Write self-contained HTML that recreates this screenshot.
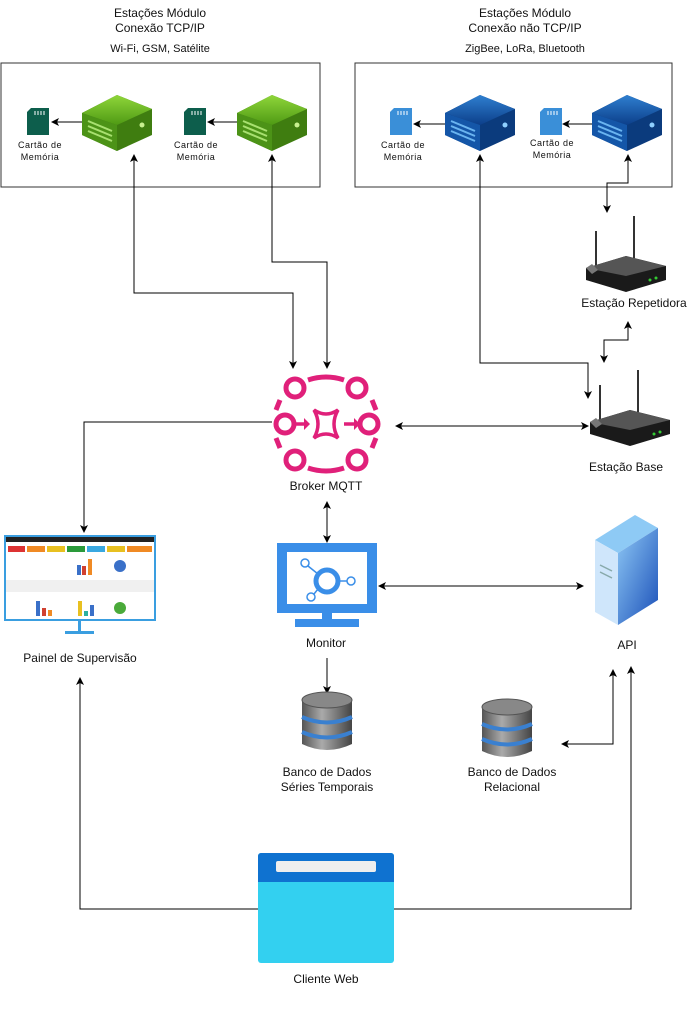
<!DOCTYPE html>
<html><head><meta charset="utf-8"><style>
body{margin:0;background:#fff}
svg text{font-family:"Liberation Sans",sans-serif;fill:#111}
</style></head><body>
<svg width="696" height="1014" viewBox="0 0 696 1014" xmlns="http://www.w3.org/2000/svg">
<defs>
<marker id="a" markerWidth="8" markerHeight="8" refX="7" refY="4" orient="auto-start-reverse" markerUnits="userSpaceOnUse"><path d="M0,0 L8,4 L0,8 L2,4 Z" fill="#000"/></marker>
<linearGradient id="gg" x1="0" y1="0" x2="0" y2="1"><stop offset="0" stop-color="#8fd63a"/><stop offset="1" stop-color="#4f9a14"/></linearGradient>
<linearGradient id="bg" x1="0" y1="0" x2="0" y2="1"><stop offset="0" stop-color="#2f7fd0"/><stop offset="1" stop-color="#0c3f8a"/></linearGradient>
<linearGradient id="sv" x1="0" y1="0" x2="1" y2="1"><stop offset="0" stop-color="#8ec8f5"/><stop offset="1" stop-color="#1a4fb8"/></linearGradient>
<linearGradient id="db" x1="0" y1="0" x2="1" y2="0"><stop offset="0" stop-color="#555"/><stop offset=".4" stop-color="#aaa"/><stop offset="1" stop-color="#444"/></linearGradient>
<g id="gbox"><path d="M0,18 L35,0 L70,14 L70,40 L35,56 L0,40 Z" fill="#3f7d10"/><path d="M0,18 L35,0 L70,14 L35,30 Z" fill="url(#gg)"/><path d="M0,18 L35,30 L35,56 L0,40Z" fill="#4c9317"/><g stroke="#a8e070" stroke-width="2"><line x1="6" y1="26" x2="30" y2="36"/><line x1="6" y1="31" x2="30" y2="41"/><line x1="6" y1="36" x2="30" y2="46"/></g><circle cx="60" cy="30" r="2.5" fill="#c8f090"/></g>
<g id="bbox"><path d="M0,18 L35,0 L70,14 L70,40 L35,56 L0,40 Z" fill="#0b3b7d"/><path d="M0,18 L35,0 L70,14 L35,30 Z" fill="url(#bg)"/><path d="M0,18 L35,30 L35,56 L0,40Z" fill="#1456a8"/><g stroke="#6ab4f0" stroke-width="2"><line x1="6" y1="26" x2="30" y2="36"/><line x1="6" y1="31" x2="30" y2="41"/><line x1="6" y1="36" x2="30" y2="46"/></g><circle cx="60" cy="30" r="2.5" fill="#8fd0ff"/></g>
<g id="router"><line x1="10" y1="-5" x2="10" y2="30" stroke="#333" stroke-width="2"/><line x1="48" y1="-20" x2="48" y2="22" stroke="#333" stroke-width="2"/><path d="M0,32 L40,20 L80,30 L80,44 L40,56 L0,44Z" fill="#1a1a1a"/><path d="M0,32 L40,20 L80,30 L40,40Z" fill="#555"/><path d="M0,32 L6,28 L12,34 L6,38Z" fill="#777"/><circle cx="64" cy="44" r="1.5" fill="#3c3"/><circle cx="70" cy="42" r="1.5" fill="#3c3"/></g>
<g id="sd"><path d="M0,4 L4,0 L22,0 L22,27 L0,27Z"/><g stroke="#fff" stroke-width="1"><line x1="8" y1="3" x2="8" y2="7"/><line x1="11" y1="3" x2="11" y2="7"/><line x1="14" y1="3" x2="14" y2="7"/><line x1="17" y1="3" x2="17" y2="7"/></g></g>
<g id="dbi"><path d="M0,8 L0,52 Q25,64 50,52 L50,8Z" fill="url(#db)"/><ellipse cx="25" cy="8" rx="25" ry="8" fill="#888" stroke="#555"/><path d="M0,25 Q25,36 50,25" stroke="#3a80d0" stroke-width="4" fill="none"/><path d="M0,40 Q25,51 50,40" stroke="#3a80d0" stroke-width="4" fill="none"/></g>
</defs>

<g font-size="12" text-anchor="middle">
<text x="160" y="17">Estações Módulo</text><text x="160" y="32">Conexão TCP/IP</text><text x="160" y="52" font-size="11">Wi-Fi, GSM, Satélite</text>
<text x="525" y="17">Estações Módulo</text><text x="525" y="32">Conexão não TCP/IP</text><text x="525" y="52" font-size="11">ZigBee, LoRa, Bluetooth</text>
</g>
<rect x="1" y="63" width="319" height="124" fill="none" stroke="#333"/>
<rect x="355" y="63" width="317" height="124" fill="none" stroke="#333"/>

<use href="#gbox" x="82" y="95"/><use href="#gbox" x="237" y="95"/>
<use href="#bbox" x="445" y="95"/><use href="#bbox" x="592" y="95"/>
<use href="#sd" x="27" y="108" fill="#0d5e4c"/><use href="#sd" x="184" y="108" fill="#0d5e4c"/>
<use href="#sd" x="390" y="108" fill="#3a8fd8"/><use href="#sd" x="540" y="108" fill="#3a8fd8"/>
<g font-size="9" text-anchor="middle" letter-spacing=".5">
<text x="40" y="148">Cartão de</text><text x="40" y="160">Memória</text>
<text x="196" y="148">Cartão de</text><text x="196" y="160">Memória</text>
<text x="403" y="148">Cartão de</text><text x="403" y="160">Memória</text>
<text x="552" y="146">Cartão de</text><text x="552" y="158">Memória</text>
</g>

<g stroke="#000" stroke-width="1" fill="none">
<line x1="82" y1="122" x2="52" y2="122" marker-end="url(#a)"/>
<line x1="237" y1="122" x2="208" y2="122" marker-end="url(#a)"/>
<line x1="445" y1="124" x2="414" y2="124" marker-end="url(#a)"/>
<line x1="592" y1="124" x2="563" y2="124" marker-end="url(#a)"/>
<polyline points="134,155 134,293 293,293 293,368" marker-start="url(#a)" marker-end="url(#a)"/>
<polyline points="272,155 272,262 327,262 327,368" marker-start="url(#a)" marker-end="url(#a)"/>
<polyline points="480,155 480,363 588,363 588,398" marker-start="url(#a)" marker-end="url(#a)"/>
<polyline points="628,155 628,183 607,183 607,212" marker-start="url(#a)" marker-end="url(#a)"/>
<polyline points="628,322 628,340 604,340 604,362" marker-start="url(#a)" marker-end="url(#a)"/>
<line x1="396" y1="426" x2="588" y2="426" marker-start="url(#a)" marker-end="url(#a)"/>
<polyline points="272,422 84,422 84,532" marker-end="url(#a)"/>
<line x1="327" y1="502" x2="327" y2="542" marker-start="url(#a)" marker-end="url(#a)"/>
<line x1="379" y1="586" x2="583" y2="586" marker-start="url(#a)" marker-end="url(#a)"/>
<line x1="327" y1="658" x2="327" y2="693" marker-end="url(#a)"/>
<polyline points="613,670 613,744 562,744" marker-start="url(#a)" marker-end="url(#a)"/>
<polyline points="258,909 80,909 80,678" marker-end="url(#a)"/>
<polyline points="394,909 631,909 631,667" marker-end="url(#a)"/>
</g>

<use href="#router" x="586" y="236"/>
<use href="#router" x="590" y="390"/>
<g font-size="12" text-anchor="middle">
<text x="634" y="307">Estação Repetidora</text>
<text x="626" y="471">Estação Base</text>
<text x="326" y="490">Broker MQTT</text>
<text x="80" y="662">Painel de Supervisão</text>
<text x="326" y="647">Monitor</text>
<text x="627" y="649">API</text>
<text x="327" y="776">Banco de Dados</text><text x="327" y="791">Séries Temporais</text>
<text x="512" y="776">Banco de Dados</text><text x="512" y="791">Relacional</text>
<text x="326" y="983">Cliente Web</text>
</g>

<!-- broker -->
<g stroke="#e0207a" stroke-width="5" fill="none">
<circle cx="295" cy="388" r="9"/><circle cx="357" cy="388" r="9"/>
<circle cx="285" cy="424" r="9"/><circle cx="369" cy="424" r="9"/>
<circle cx="295" cy="460" r="9"/><circle cx="357" cy="460" r="9"/>
<path d="M308,380 Q326,374 344,380"/><path d="M308,468 Q326,474 344,468"/>
<path d="M280,400 L276,410"/><path d="M372,400 L376,410"/><path d="M280,448 L276,438"/><path d="M372,448 L376,438"/>
<path d="M314,410 Q326,418 338,410 Q330,424 338,438 Q326,430 314,438 Q322,424 314,410Z" stroke-width="3.5"/>
<line x1="295" y1="424" x2="304" y2="424" stroke-width="3.5"/><line x1="344" y1="424" x2="354" y2="424" stroke-width="3.5"/>
</g>
<path d="M304,418 L310,424 L304,430Z M354,418 L360,424 L354,430Z" fill="#e0207a"/>

<!-- dashboard -->
<rect x="5" y="536" width="150" height="84" fill="#fff" stroke="#3a9ee0" stroke-width="2"/>
<rect x="6" y="537" width="148" height="5" fill="#222"/>
<g><rect x="8" y="546" width="17" height="6" fill="#d33"/><rect x="27" y="546" width="18" height="6" fill="#f08a24"/><rect x="47" y="546" width="18" height="6" fill="#e8c020"/><rect x="67" y="546" width="18" height="6" fill="#2a9a3a"/><rect x="87" y="546" width="18" height="6" fill="#39a8e0"/><rect x="107" y="546" width="18" height="6" fill="#e8c020"/><rect x="127" y="546" width="25" height="6" fill="#f08a24"/></g>
<rect x="77" y="565" width="4" height="10" fill="#3a70c8"/><rect x="82" y="566" width="4" height="9" fill="#d04030"/><rect x="88" y="559" width="4" height="16" fill="#f08a24"/>
<circle cx="120" cy="566" r="6" fill="#3a70c8"/>
<rect x="36" y="601" width="4" height="15" fill="#3a70c8"/><rect x="42" y="608" width="4" height="8" fill="#d04030"/><rect x="48" y="610" width="4" height="6" fill="#f08a24"/>
<rect x="78" y="601" width="4" height="15" fill="#e8c020"/><rect x="84" y="611" width="4" height="5" fill="#2ab0a0"/><rect x="90" y="605" width="4" height="11" fill="#3a70c8"/>
<circle cx="120" cy="608" r="6" fill="#4aaa3a"/>
<rect x="6" y="580" width="148" height="12" fill="#f0f0f0"/>
<rect x="78" y="620" width="3" height="12" fill="#3a9ee0"/><rect x="65" y="631" width="29" height="3" fill="#3a9ee0"/>

<!-- monitor -->
<rect x="277" y="543" width="100" height="70" fill="#3a8ee8"/>
<rect x="287" y="552" width="80" height="52" fill="#fff"/>
<rect x="322" y="613" width="10" height="6" fill="#3a8ee8"/><rect x="295" y="619" width="64" height="8" fill="#3a8ee8"/>
<g stroke="#3a8ee8" fill="none" stroke-width="1.5"><circle cx="327" cy="581" r="11" stroke-width="5"/><circle cx="305" cy="563" r="4"/><circle cx="351" cy="581" r="4"/><circle cx="311" cy="597" r="4"/><line x1="308" y1="566" x2="318" y2="574"/><line x1="338" y1="581" x2="347" y2="581"/><line x1="314" y1="594" x2="318" y2="589"/></g>

<!-- server -->
<path d="M595,540 L635,515 L658,528 L618,553Z" fill="#8ecaf5"/>
<path d="M595,540 L618,553 L618,625 L595,612Z" fill="#cfe6fb"/>
<path d="M618,553 L658,528 L658,600 L618,625Z" fill="url(#sv)"/>
<line x1="600" y1="565" x2="612" y2="571" stroke="#8aa" stroke-width="1.5"/><line x1="600" y1="572" x2="612" y2="578" stroke="#8aa" stroke-width="1.5"/>

<use href="#dbi" x="302" y="692"/>
<use href="#dbi" x="482" y="699"/>

<!-- web -->
<rect x="258" y="853" width="136" height="110" rx="3" fill="#33d0f0"/>
<path d="M261,853 h130 a3,3 0 0 1 3,3 v26 h-136 v-26 a3,3 0 0 1 3,-3z" fill="#0f72d0"/>
<rect x="276" y="861" width="100" height="11" rx="2" fill="#eee"/>
</svg>
</body></html>
